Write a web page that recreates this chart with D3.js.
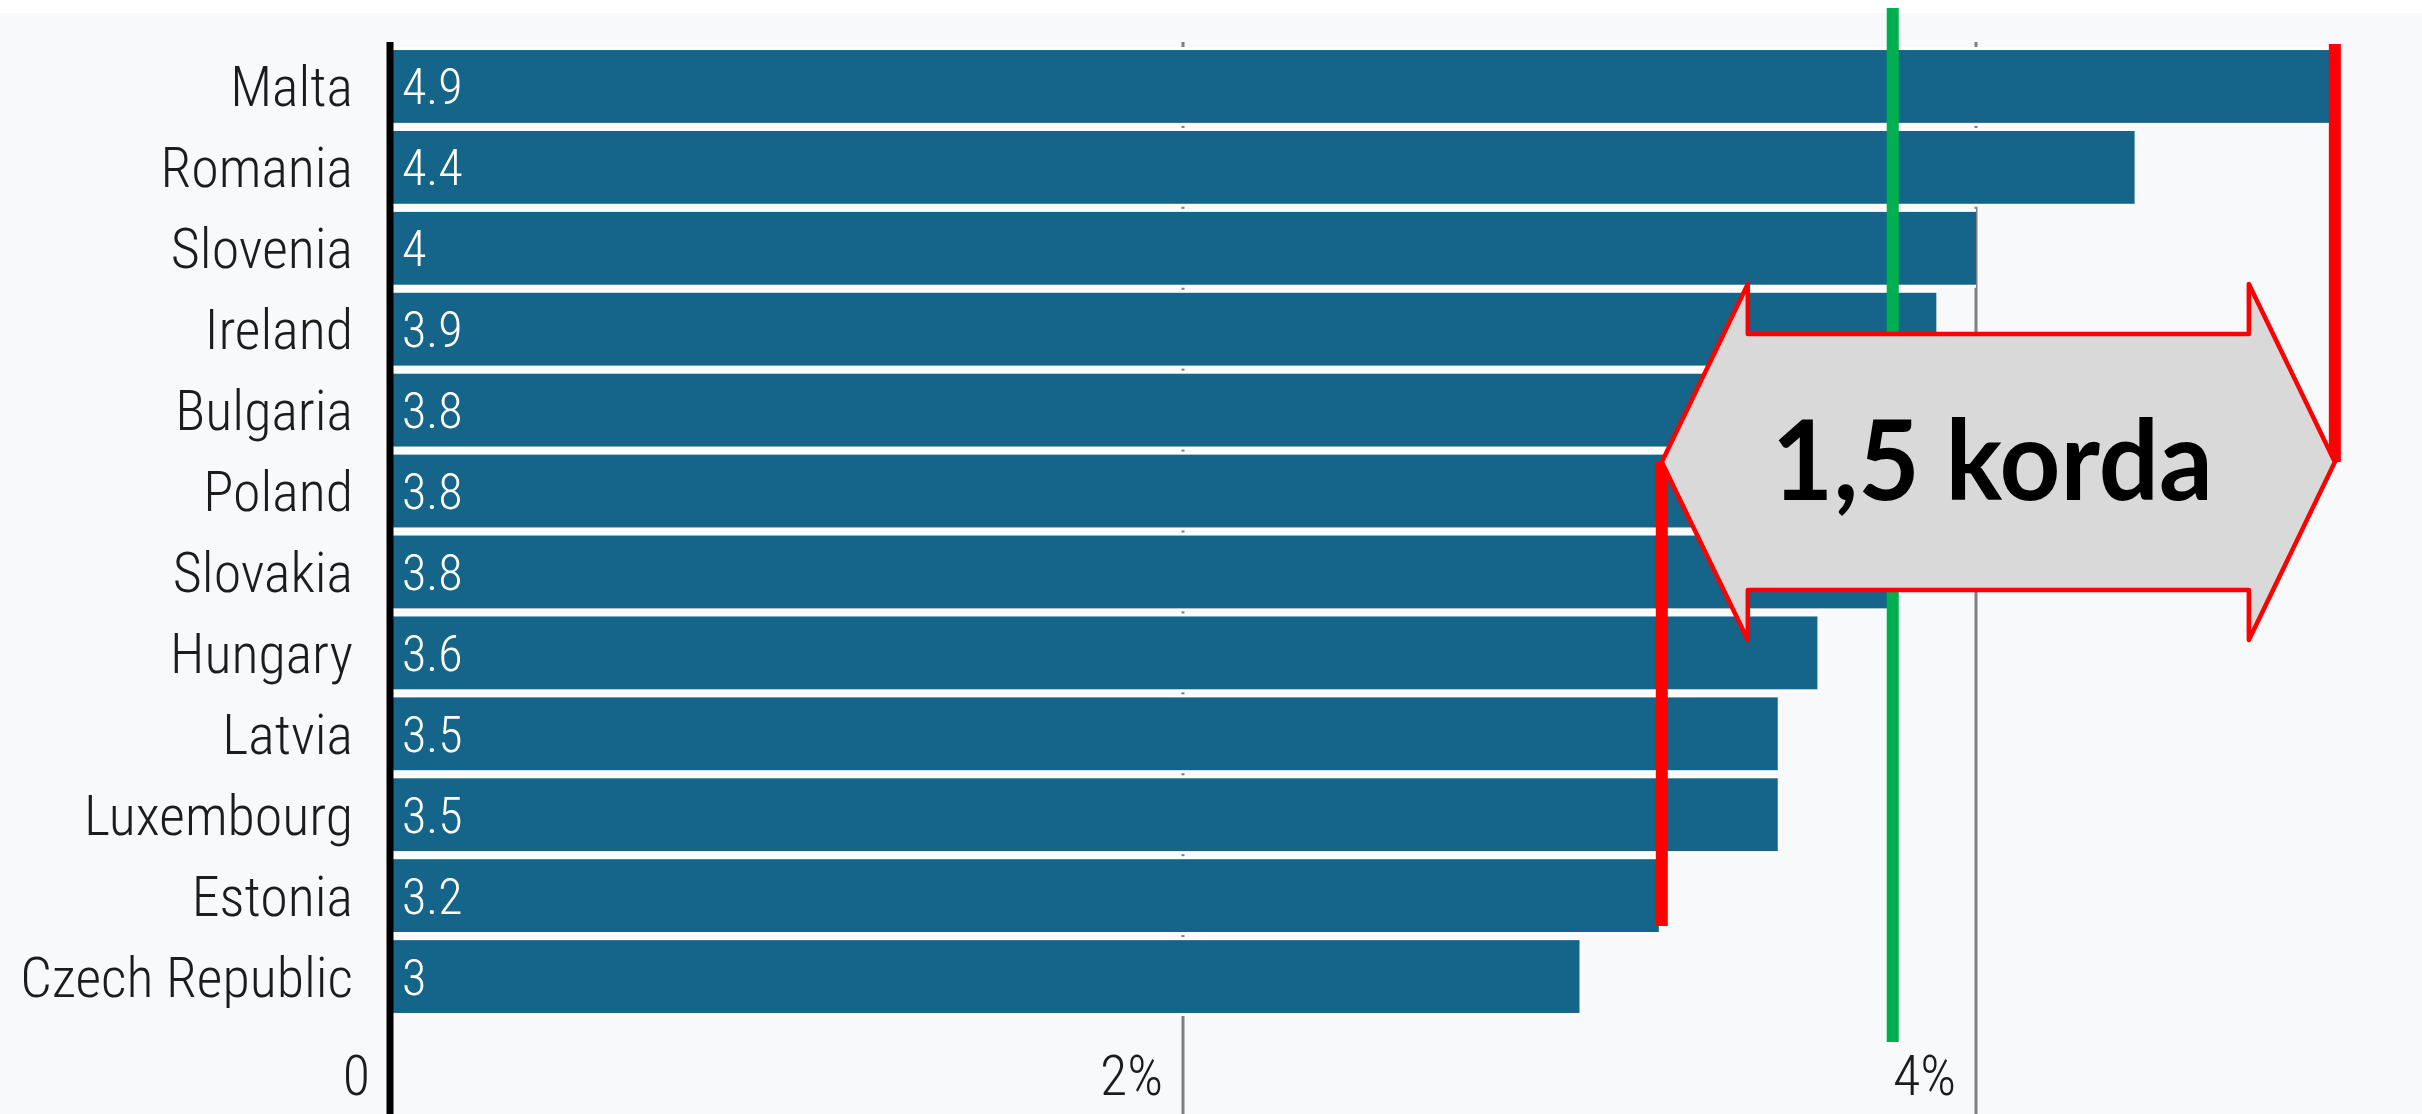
<!DOCTYPE html>
<html>
<head>
<meta charset="utf-8">
<script src="https://cdn.jsdelivr.net/npm/d3@7"></script>
<style>
  html, body { margin: 0; padding: 0; background: #f8f9fb; }
  svg { display: block; }
</style>
</head>
<body>
<div id="chart"></div>
<script>
const countries = ["Malta", "Romania", "Slovenia", "Ireland", "Bulgaria", "Poland", "Slovakia", "Hungary", "Latvia", "Luxembourg", "Estonia", "Czech Republic"]
const values = [4.9, 4.4, 4, 3.9, 3.8, 3.8, 3.8, 3.6, 3.5, 3.5, 3.2, 3]
const valueLabels = ["4.9", "4.4", "4", "3.9", "3.8", "3.8", "3.8", "3.6", "3.5", "3.5", "3.2", "3"]
const tickValues = [0, 2, 4]
const tickLabels = ["0", "2%", "4%"]
const averageValue = 3.79
const rangeLow = 3.2
const rangeHigh = 4.9
const annotationText = "1,5 korda"

const width = 2422
const height = 1114
const labelFont = "'Roboto Condensed', 'Liberation Sans Narrow', 'Arial Narrow', sans-serif"

const data = countries.map((c, i) => ({ country: c, value: values[i], label: valueLabels[i] }))

const svg = d3.select("#chart")
  .append("svg")
    .attr("width", width)
    .attr("height", height)

svg.append("rect")
  .attr("width", width)
  .attr("height", height)
  .attr("fill", "#f8f9fb")

svg.append("rect")
  .attr("width", width)
  .attr("height", 13)
  .attr("fill", "#ffffff")

const x = d3.scaleLinear()
  .domain([0, 5])
  .range([390, 390 + 5 * 396.5])

const y = d3.scaleBand()
  .domain(countries)
  .range([46, 1017])
  .paddingInner(0.1)
  .paddingOuter(0.05)

// gridlines
svg.selectAll(".grid")
  .data(tickValues.filter(t => t > 0))
  .enter().append("line")
    .attr("class", "grid")
    .attr("x1", d => x(d))
    .attr("x2", d => x(d))
    .attr("y1", 42)
    .attr("y2", height)
    .attr("stroke", "#7f7f7f")
    .attr("stroke-width", 3)

// white separators behind bars
svg.selectAll(".bar-bg")
  .data(data)
  .enter().append("rect")
    .attr("x", x(0))
    .attr("y", d => y(d.country) - 3)
    .attr("width", d => x(d.value) - x(0))
    .attr("height", y.bandwidth() + 6)
    .attr("fill", "#ffffff")

svg.selectAll(".bar")
  .data(data)
  .enter().append("rect")
    .attr("class", "bar")
    .attr("x", x(0))
    .attr("y", d => y(d.country))
    .attr("width", d => x(d.value) - x(0))
    .attr("height", y.bandwidth())
    .attr("fill", "#156489")

svg.selectAll(".value")
  .data(data)
  .enter().append("text")
    .attr("x", x(0) + 12)
    .attr("y", d => y(d.country) + y.bandwidth() / 2 + 18)
    .attr("fill", "#ffffff")
    .style("font-family", labelFont)
    .style("font-weight", 300)
    .style("font-size", "50px")
    .text(d => d.label)

svg.selectAll(".cat")
  .data(data)
  .enter().append("text")
    .attr("x", x(0) - 37)
    .attr("y", d => y(d.country) + y.bandwidth() / 2 + 20)
    .attr("text-anchor", "end")
    .attr("fill", "#1c1c1c")
    .style("font-family", labelFont)
    .style("font-weight", 300)
    .style("font-size", "56px")
    .text(d => d.country)

// axis tick labels
svg.selectAll(".tick-label")
  .data(tickValues)
  .enter().append("text")
    .attr("x", d => x(d) - 20)
    .attr("y", 1095)
    .attr("text-anchor", "end")
    .attr("fill", "#1c1c1c")
    .style("font-family", labelFont)
    .style("font-weight", 300)
    .style("font-size", "56px")
    .text((d, i) => tickLabels[i])

// zero axis
svg.append("line")
  .attr("x1", x(0))
  .attr("x2", x(0))
  .attr("y1", 42)
  .attr("y2", height)
  .attr("stroke", "#000000")
  .attr("stroke-width", 7)

// average line
svg.append("line")
  .attr("x1", x(averageValue))
  .attr("x2", x(averageValue))
  .attr("y1", 8)
  .attr("y2", 1042)
  .attr("stroke", "#00b050")
  .attr("stroke-width", 12)

// double arrow annotation
const cy = 462
const headLen = 86
const headHalf = 178
const shaftHalf = 128
const xl = x(rangeLow) + 3
const xr = x(rangeHigh) + 2

svg.append("line")
  .attr("x1", xr)
  .attr("x2", xr)
  .attr("y1", 44)
  .attr("y2", cy)
  .attr("stroke", "#ff0000")
  .attr("stroke-width", 12)

svg.append("line")
  .attr("x1", xl)
  .attr("x2", xl)
  .attr("y1", cy)
  .attr("y2", y("Estonia") + y.bandwidth() - 6)
  .attr("stroke", "#ff0000")
  .attr("stroke-width", 12)

const arrowPoints = [
  [xl, cy],
  [xl + headLen, cy - headHalf],
  [xl + headLen, cy - shaftHalf],
  [xr - headLen, cy - shaftHalf],
  [xr - headLen, cy - headHalf],
  [xr, cy],
  [xr - headLen, cy + headHalf],
  [xr - headLen, cy + shaftHalf],
  [xl + headLen, cy + shaftHalf],
  [xl + headLen, cy + headHalf]
]

svg.append("polygon")
  .attr("points", arrowPoints.map(p => p.join(",")).join(" "))
  .attr("fill", "#d9d9d9")
  .attr("stroke", "#ff0000")
  .attr("stroke-width", 4.5)
  .attr("stroke-linejoin", "round")

svg.append("text")
  .attr("x", (xl + xr) / 2 - 6)
  .attr("y", 500)
  .attr("text-anchor", "middle")
  .attr("fill", "#000000")
  .attr("textLength", 441)
  .attr("lengthAdjust", "spacingAndGlyphs")
  .style("font-family", "Lato, Inter, 'Noto Sans', sans-serif")
  .style("font-weight", 700)
  .style("font-size", "112px")
  .text(annotationText)
</script>
</body>
</html>
